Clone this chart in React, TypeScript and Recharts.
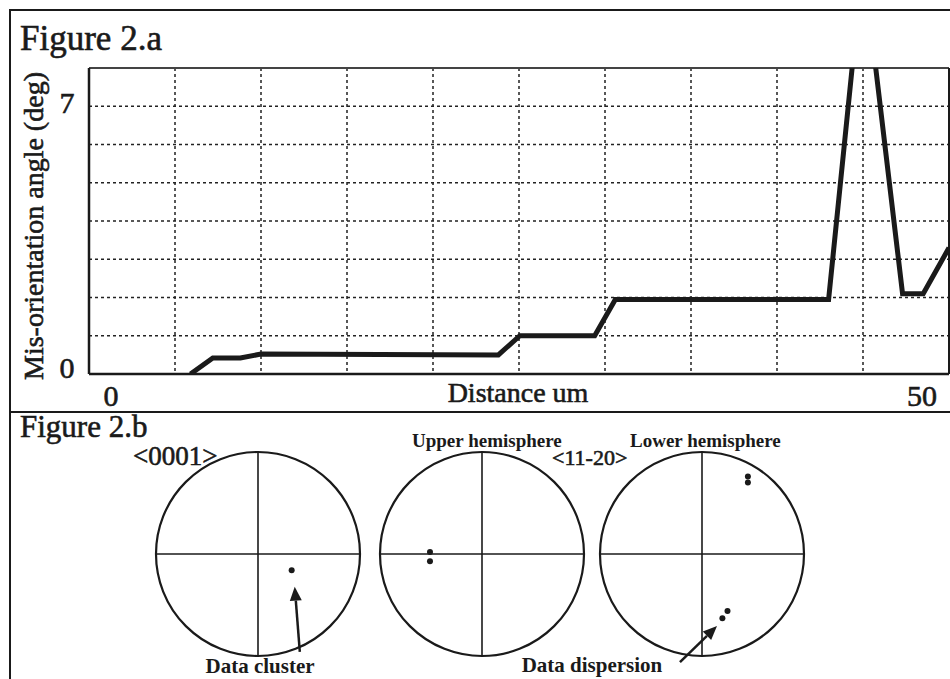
import React from 'react'
import {
  LineChart,
  Line,
  XAxis,
  YAxis,
  CartesianGrid,
  ReferenceLine,
  ReferenceDot,
  ScatterChart,
  Scatter,
  Label
} from 'recharts'

// Figure 2.a - misorientation profile
const distance = [5.9, 7.2, 8.8, 10, 23.8, 25.05, 29.4, 30.6, 43, 45, 47.3, 48.5, 50]
const angle = [0, 0.42, 0.42, 0.52, 0.5, 1.0, 1.0, 1.95, 1.95, 10.8, 2.1, 2.1, 3.3]
const xTicks = [0, 5, 10, 15, 20, 25, 30, 35, 40, 45, 50]
const yTicks = [0, 1, 2, 3, 4, 5, 6, 7, 8]
const xLabelled = [0, 50]
const yLabelled = [0, 7]

// Figure 2.b - pole figures (unit circle coords)
const pole0001 = [{ x: 0.33, y: -0.16 }]
const poleUpper = [{ x: -0.51, y: 0.02 }, { x: -0.51, y: -0.07 }]
const poleLower = [
  { x: 0.45, y: 0.76 },
  { x: 0.45, y: 0.7 },
  { x: 0.25, y: -0.56 },
  { x: 0.2, y: -0.63 }
]
const arrowCluster = [{ x: 0.41, y: -0.96 }, { x: 0.36, y: -0.32 }]
const arrowDispersion = [{ x: -0.216, y: -1.06 }, { x: 0.147, y: -0.706 }]

const lineData = distance.map((d, i) => ({ distance: d, angle: angle[i] }))

const FONT = '"Liberation Serif", "Times New Roman", serif'
const INK = '#1a1a1a'
// the scan is a bit heavy, thicken regular glyphs slightly
const heavy = { stroke: INK, strokeWidth: 0.6 }

const XTick = ({ x, y, payload }: any) => {
  if (!xLabelled.includes(payload.value)) return null
  const dx = payload.value === 0 ? 22 : -27
  return (
    <text x={x + dx} y={y + 32} textAnchor="middle" fontSize={30} fill={INK} fontFamily={FONT} {...heavy}>
      {payload.value}
    </text>
  )
}

const YTick = ({ x, y, payload }: any) => {
  if (!yLabelled.includes(payload.value)) return null
  const dy = payload.value === 0 ? 4 : 7
  return (
    <text x={x - 22} y={y + dy} textAnchor="middle" fontSize={30} fill={INK} fontFamily={FONT} {...heavy}>
      {payload.value}
    </text>
  )
}

const YLabel = ({ viewBox }: any) => {
  const cx = viewBox.x + 33
  const cy = viewBox.y + viewBox.height / 2 + 5
  return (
    <text
      x={cx}
      y={cy}
      transform={`rotate(-90, ${cx}, ${cy})`}
      textAnchor="middle"
      dominantBaseline="central"
      fontSize={28}
      fill={INK}
      fontFamily={FONT}
      {...heavy}
    >
      Mis-orientation angle (deg)
    </text>
  )
}

const XLabel = ({ viewBox }: any) => (
  <text
    x={viewBox.x + viewBox.width / 2 - 1}
    y={viewBox.y + 28}
    textAnchor="middle"
    fontSize={28}
    fill={INK}
    fontFamily={FONT}
    {...heavy}
  >
    Distance um
  </text>
)

const Arrow = (props: any) => {
  const { x1, y1, x2, y2 } = props
  const a = Math.atan2(y2 - y1, x2 - x1)
  const len = 14
  const w = 6
  const bx = x2 - len * Math.cos(a)
  const by = y2 - len * Math.sin(a)
  const p1 = `${bx + w * Math.sin(a)},${by - w * Math.cos(a)}`
  const p2 = `${bx - w * Math.sin(a)},${by + w * Math.cos(a)}`
  return (
    <g>
      <line x1={x1} y1={y1} x2={bx} y2={by} stroke={INK} strokeWidth={2.5} />
      <polygon points={`${x2},${y2} ${p1} ${p2}`} fill={INK} />
    </g>
  )
}

const Dot = (props: any) => <circle cx={props.cx} cy={props.cy} r={3} fill={INK} />

const SIZE = 244
const PAD = 20
const R = (SIZE - 2 * PAD) / 2

const PoleFigure = ({ left, top, points, arrow }: any) => (
  <div style={{ position: 'absolute', left, top }}>
    <ScatterChart width={SIZE} height={SIZE} margin={{ top: PAD, right: PAD, bottom: PAD, left: PAD }}>
      <XAxis type="number" dataKey="x" domain={[-1, 1]} hide />
      <YAxis type="number" dataKey="y" domain={[-1, 1]} hide />
      <ReferenceDot x={0} y={0} r={R} fill="none" stroke={INK} strokeWidth={2.2} ifOverflow="visible" />
      <ReferenceLine x={0} stroke={INK} strokeWidth={1.6} />
      <ReferenceLine y={0} stroke={INK} strokeWidth={1.6} />
      <Scatter data={points} shape={<Dot />} isAnimationActive={false} />
      {arrow && (
        <ReferenceLine
          segment={arrow}
          ifOverflow="visible"
          shape={<Arrow />}
        />
      )}
    </ScatterChart>
  </div>
)

export default function App() {
  return (
    <div style={{ position: 'absolute', left: 0, top: 0, width: 950, height: 679, background: '#fff', overflow: 'hidden' }}>
      <div style={{ position: 'absolute', left: 0, top: 0 }}>
        <LineChart width={950} height={412} data={lineData} margin={{ top: 68, right: 1, left: 0, bottom: 0 }}>
          <CartesianGrid strokeDasharray="3 3" stroke="#222" strokeWidth={1.5} />
          <XAxis
            dataKey="distance"
            type="number"
            domain={[0, 50]}
            ticks={xTicks}
            interval={0}
            height={38}
            tickLine={false}
            tickSize={0}
            tickMargin={0}
            tick={<XTick />}
            axisLine={{ stroke: INK, strokeWidth: 2.5 }}
          >
            <Label content={<XLabel />} />
          </XAxis>
          <YAxis
            type="number"
            domain={[0, 8]}
            ticks={yTicks}
            interval={0}
            width={89}
            allowDataOverflow
            tickLine={false}
            tickSize={0}
            tickMargin={0}
            tick={<YTick />}
            axisLine={{ stroke: INK, strokeWidth: 2.5 }}
          >
            <Label content={<YLabel />} />
          </YAxis>
          <ReferenceLine y={8} stroke="#444" strokeWidth={2} />
          <ReferenceLine x={50} stroke={INK} strokeWidth={2} />
          <Line
            dataKey="angle"
            type="linear"
            stroke={INK}
            strokeWidth={5}
            dot={false}
            isAnimationActive={false}
          />
        </LineChart>
      </div>

      <PoleFigure left={258 - SIZE / 2} top={554 - SIZE / 2} points={pole0001} arrow={arrowCluster} />
      <PoleFigure left={482 - SIZE / 2} top={554 - SIZE / 2} points={poleUpper} />
      <PoleFigure left={702 - SIZE / 2} top={554 - SIZE / 2} points={poleLower} arrow={arrowDispersion} />

      <svg width={950} height={679} style={{ position: 'absolute', left: 0, top: 0, pointerEvents: 'none' }}>
        <line x1={10} y1={9} x2={10} y2={679} stroke={INK} strokeWidth={2} />
        <line x1={9} y1={10} x2={950} y2={10} stroke={INK} strokeWidth={2} />
        <line x1={10} y1={412} x2={950} y2={412} stroke={INK} strokeWidth={2} />
        <g fontFamily={FONT} fill={INK}>
          <text x={20} y={50} fontSize={35} {...heavy}>Figure 2.a</text>
          <text x={20} y={437} fontSize={31} {...heavy}>Figure 2.b</text>
          <text x={133} y={465} fontSize={27} {...heavy}>{'<0001>'}</text>
          <text x={412} y={447} fontSize={19} fontWeight="bold">Upper hemisphere</text>
          <text x={552} y={465} fontSize={22} {...heavy}>{'<11-20>'}</text>
          <text x={630} y={447} fontSize={19} fontWeight="bold">Lower hemisphere</text>
          <text x={260} y={673} fontSize={21} fontWeight="bold" textAnchor="middle">Data cluster</text>
          <text x={592} y={672} fontSize={21} fontWeight="bold" textAnchor="middle">Data dispersion</text>
        </g>
      </svg>
    </div>
  )
}
